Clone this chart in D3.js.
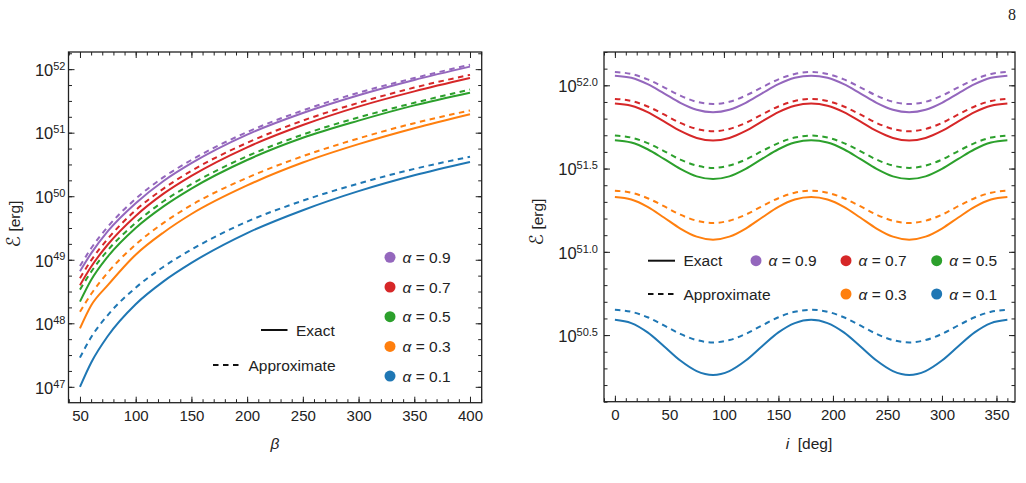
<!DOCTYPE html>
<html lang="en">
<head>
<meta charset="UTF-8">
<script src="https://cdnjs.cloudflare.com/ajax/libs/d3/7.8.5/d3.min.js"></script>
<title>Energy vs beta and inclination</title>
<style>
    body { margin: 0; background: #fff; }
    svg { display: block; font-family: "Liberation Sans", Arial, sans-serif; }
    .tick text { font-size: 15px; fill: #222; }
    .ylab .tick text { font-size: 16.5px; }
    .tick line { stroke: #222; stroke-width: 1; }
    .lbl { font-size: 15.5px; fill: #222; }
</style>
</head>
<body>
<svg width="1026" height="483"></svg>
<script>
    var alphas = ["0.9", "0.7", "0.5", "0.3", "0.1"];
    var colors = ["#9467bd", "#d62728", "#2ca02c", "#ff7f0e", "#1f77b4"];

    // left panel: log10 E [erg] against beta, rows in the order of alphas
    var betas = [50, 60, 75, 100, 125, 150, 200, 250, 300, 350, 400];
    var exactBeta = [
        [48.82, 49.10, 49.45, 49.89, 50.24, 50.52, 50.97, 51.31, 51.59, 51.83, 52.04],
        [48.60, 48.89, 49.24, 49.69, 50.04, 50.32, 50.77, 51.12, 51.41, 51.65, 51.86],
        [48.34, 48.68, 49.05, 49.50, 49.84, 50.12, 50.57, 50.92, 51.19, 51.43, 51.63],
        [47.92, 48.28, 48.60, 49.08, 49.43, 49.72, 50.17, 50.53, 50.82, 51.07, 51.29],
        [47.00, 47.38, 47.80, 48.30, 48.66, 48.95, 49.42, 49.78, 50.08, 50.33, 50.54]
    ];
    var approxBeta = [
        [48.90, 49.18, 49.52, 49.96, 50.30, 50.57, 51.01, 51.35, 51.63, 51.86, 52.07],
        [48.71, 48.99, 49.33, 49.78, 50.12, 50.40, 50.84, 51.19, 51.47, 51.71, 51.91],
        [48.53, 48.81, 49.15, 49.58, 49.92, 50.19, 50.63, 50.97, 51.24, 51.47, 51.68],
        [48.18, 48.46, 48.80, 49.24, 49.58, 49.86, 50.29, 50.63, 50.91, 51.15, 51.35],
        [47.46, 47.78, 48.13, 48.56, 48.89, 49.16, 49.60, 49.93, 50.20, 50.43, 50.62]
    ];

    // right panel: log10 E [erg] against inclination i [deg]
    var incl = [0, 15, 30, 45, 60, 75, 90, 105, 120, 135, 150, 165, 180, 195, 210, 225, 240, 255, 270, 285, 300, 315, 330, 345, 360];
    var exactIncl = [
        [52.058, 52.045, 52.007, 51.952, 51.895, 51.853, 51.838, 51.853, 51.895, 51.952, 52.007, 52.045, 52.058, 52.045, 52.007, 51.952, 51.895, 51.853, 51.838, 51.853, 51.895, 51.952, 52.007, 52.045, 52.058],
        [51.890, 51.877, 51.839, 51.783, 51.726, 51.684, 51.668, 51.684, 51.726, 51.783, 51.839, 51.877, 51.890, 51.877, 51.839, 51.783, 51.726, 51.684, 51.668, 51.684, 51.726, 51.783, 51.839, 51.877, 51.890],
        [51.670, 51.656, 51.616, 51.558, 51.498, 51.453, 51.437, 51.453, 51.498, 51.558, 51.616, 51.656, 51.670, 51.656, 51.616, 51.558, 51.498, 51.453, 51.437, 51.453, 51.498, 51.558, 51.616, 51.656, 51.670],
        [51.329, 51.314, 51.270, 51.206, 51.140, 51.091, 51.073, 51.091, 51.140, 51.206, 51.270, 51.314, 51.329, 51.314, 51.270, 51.206, 51.140, 51.091, 51.073, 51.091, 51.140, 51.206, 51.270, 51.314, 51.329],
        [50.592, 50.572, 50.516, 50.433, 50.347, 50.284, 50.261, 50.284, 50.347, 50.433, 50.516, 50.572, 50.592, 50.572, 50.516, 50.433, 50.347, 50.284, 50.261, 50.284, 50.347, 50.433, 50.516, 50.572, 50.592]
    ];
    var approxIncl = [
        [52.080, 52.068, 52.036, 51.988, 51.938, 51.901, 51.888, 51.901, 51.938, 51.988, 52.036, 52.068, 52.080, 52.068, 52.036, 51.988, 51.938, 51.901, 51.888, 51.901, 51.938, 51.988, 52.036, 52.068, 52.080],
        [51.918, 51.906, 51.873, 51.825, 51.774, 51.738, 51.724, 51.738, 51.774, 51.825, 51.873, 51.906, 51.918, 51.906, 51.873, 51.825, 51.774, 51.738, 51.724, 51.738, 51.774, 51.825, 51.873, 51.906, 51.918],
        [51.698, 51.686, 51.653, 51.605, 51.554, 51.518, 51.504, 51.518, 51.554, 51.605, 51.653, 51.686, 51.698, 51.686, 51.653, 51.605, 51.554, 51.518, 51.504, 51.518, 51.554, 51.605, 51.653, 51.686, 51.698],
        [51.367, 51.355, 51.322, 51.274, 51.223, 51.187, 51.173, 51.187, 51.223, 51.274, 51.322, 51.355, 51.367, 51.355, 51.322, 51.274, 51.223, 51.187, 51.173, 51.187, 51.223, 51.274, 51.322, 51.355, 51.367],
        [50.652, 50.640, 50.607, 50.558, 50.507, 50.470, 50.456, 50.470, 50.507, 50.558, 50.607, 50.640, 50.652, 50.640, 50.607, 50.558, 50.507, 50.470, 50.456, 50.470, 50.507, 50.558, 50.607, 50.640, 50.652]
    ];

    var leftXTicks = [50, 100, 150, 200, 250, 300, 350, 400];
    var leftYTicks = [47, 48, 49, 50, 51, 52];
    var rightXTicks = [0, 50, 100, 150, 200, 250, 300, 350];
    var rightYTicks = [50.5, 51.0, 51.5, 52.0];

    var svg = d3.select("svg");
    var dash = "5.5,4.5";

    function drawPanel(p) {
        var x = d3.scaleLinear().domain(p.xDom).range([p.left, p.right]);
        var y = d3.scaleLinear().domain(p.yDom).range([p.bottom, p.top]);
        var g = svg.append("g");

        // minor ticks on all four sides
        var minorAxes = [
            [d3.axisBottom(x), p.bottom, "x"], [d3.axisTop(x), p.top, "x"],
            [d3.axisLeft(y), p.left, "y"], [d3.axisRight(y), p.right, "y"]
        ];
        minorAxes.forEach(m => {
            var vals = m[2] == "x" ? p.xMinor : p.yMinor;
            var a = m[0].tickValues(vals).tickSize(-3.5).tickFormat("");
            var ga = g.append("g").attr("transform", m[2] == "x" ? "translate(0," + m[1] + ")" : "translate(" + m[1] + ",0)").call(a);
            ga.select(".domain").remove();
        });

        var xb = g.append("g").attr("transform", "translate(0," + p.bottom + ")")
            .call(d3.axisBottom(x).tickValues(p.xTicks).tickSize(-6).tickPadding(8));
        xb.select(".domain").remove();
        g.append("g").attr("transform", "translate(0," + p.top + ")")
            .call(d3.axisTop(x).tickValues(p.xTicks).tickSize(-6).tickFormat(""))
            .select(".domain").remove();

        var yl = g.append("g").attr("class", "ylab").attr("transform", "translate(" + p.left + ",0)")
            .call(d3.axisLeft(y).tickValues(p.yTicks).tickSize(-6).tickPadding(p.yPad));
        yl.select(".domain").remove();
        yl.selectAll(".tick text").each(function (d) {
            var t = d3.select(this).text(null).attr("dy", "0.38em");
            t.append("tspan").text("10");
            t.append("tspan").attr("dy", "-0.55em").attr("font-size", "11px").text(p.expFmt(d));
        });
        g.append("g").attr("transform", "translate(" + p.right + ",0)")
            .call(d3.axisRight(y).tickValues(p.yTicks).tickSize(-6).tickFormat(""))
            .select(".domain").remove();

        g.append("rect").attr("x", p.left).attr("y", p.top)
            .attr("width", p.right - p.left).attr("height", p.bottom - p.top)
            .attr("fill", "none").attr("stroke", "#222").attr("stroke-width", 1.3);

        var line = d3.line()
            .x((d, i) => x(p.xs[i]))
            .y(d => y(d))
            .curve(d3.curveMonotoneX);

        p.approx.forEach((row, k) => {
            g.append("path").attr("d", line(row)).attr("fill", "none")
                .attr("stroke", colors[k]).attr("stroke-width", 2).attr("stroke-dasharray", dash);
        });
        p.exact.forEach((row, k) => {
            g.append("path").attr("d", line(row)).attr("fill", "none")
                .attr("stroke", colors[k]).attr("stroke-width", 2);
        });

        var yt = g.append("text").attr("class", "lbl").attr("font-size", "16px")
            .attr("transform", "translate(" + p.yLabX + "," + p.yLabY + ") rotate(-90)")
            .attr("text-anchor", "middle");
        yt.append("tspan").attr("font-family", "'DejaVu Serif', 'DejaVu Sans', serif")
            .attr("font-style", "italic").attr("font-size", "19px").text("\u2130");
        yt.append("tspan").text(" [erg]");
        return g;
    }

    var left = drawPanel({
        xDom: [39.7, 410.5], yDom: [46.75, 52.27],
        left: 68.5, right: 481.7, top: 52, bottom: 402.7,
        xTicks: leftXTicks, yTicks: leftYTicks,
        xMinor: d3.range(40, 411, 10), yMinor: d3.range(47, 52.3, 0.25),
        xs: betas, exact: exactBeta, approx: approxBeta,
        expFmt: d => d3.format("d")(d), yPad: 3, yLabX: 20, yLabY: 224
    });
    var right = drawPanel({
        xDom: [-10, 367], yDom: [50.1, 52.2],
        left: 604, right: 1015, top: 52, bottom: 401.7,
        xTicks: rightXTicks, yTicks: rightYTicks,
        xMinor: d3.range(-10, 367, 10), yMinor: d3.range(50.1, 52.21, 0.1),
        xs: incl, exact: exactIncl, approx: approxIncl,
        expFmt: d => d3.format(".1f")(d), yPad: 6, yLabX: 543, yLabY: 222
    });

    // x axis titles
    left.append("text").attr("class", "lbl").attr("x", 275).attr("y", 449)
        .attr("text-anchor", "middle").attr("font-style", "italic").text("\u03b2");
    var it = right.append("text").attr("class", "lbl").attr("x", 809).attr("y", 449).attr("text-anchor", "middle");
    it.append("tspan").attr("font-style", "italic").text("i");
    it.append("tspan").text("\u00a0 [deg]");

    function styleKey(g, x1, x2, yy, dashed, label) {
        g.append("line").attr("x1", x1).attr("x2", x2).attr("y1", yy).attr("y2", yy)
            .attr("stroke", "#111").attr("stroke-width", 2)
            .attr("stroke-dasharray", dashed ? dash : null);
        g.append("text").attr("class", "lbl").attr("x", x2 + 8.5).attr("y", yy + 5.5).text(label);
    }
    function alphaKey(g, cx, cy, k) {
        g.append("circle").attr("cx", cx).attr("cy", cy).attr("r", 5.5).attr("fill", colors[k]);
        var t = g.append("text").attr("class", "lbl").attr("x", cx + 12.5).attr("y", cy + 5.5);
        t.append("tspan").attr("font-style", "italic").text("\u03b1");
        t.append("tspan").text(" = " + alphas[k]);
    }

    styleKey(left, 261, 287.5, 330, false, "Exact");
    styleKey(left, 213, 240, 365, true, "Approximate");
    alphas.forEach((a, k) => alphaKey(left, 390, 257.3 + k * 29.7, k));

    styleKey(right, 648, 675, 260.7, false, "Exact");
    styleKey(right, 648, 675, 294, true, "Approximate");
    var rightKeyPos = [[756, 260.7], [846, 260.7], [936.7, 260.7], [846, 294], [936.7, 294]];
    rightKeyPos.forEach((c, k) => alphaKey(right, c[0], c[1], k));

    // page number
    svg.append("text").attr("x", 1012).attr("y", 20).attr("text-anchor", "middle")
        .attr("font-family", "'Liberation Serif', 'Times New Roman', serif").attr("font-size", "16px")
        .attr("fill", "#222").text("8");
</script>
</body>
</html>
